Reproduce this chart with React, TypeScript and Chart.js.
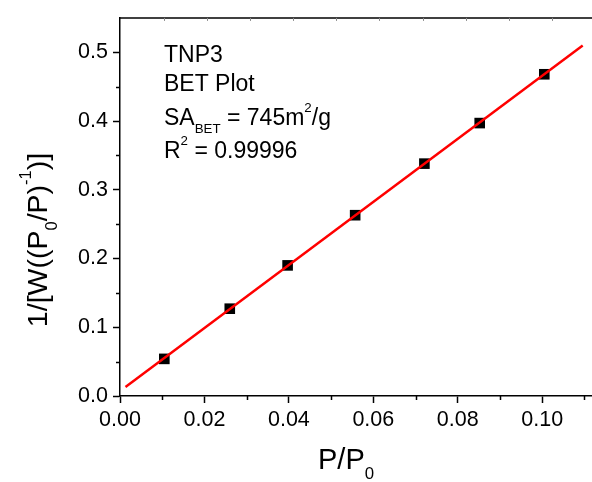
import React, { useEffect, useRef } from "react";
import { Chart, registerables } from "chart.js";

Chart.register(...registerables);

// Relative pressure and BET transform values for TNP3
const pressureRatio = [0.0105, 0.026, 0.0397, 0.0557, 0.0721, 0.0852, 0.1005];
const betValue = [0.054, 0.127, 0.19, 0.263, 0.338, 0.397, 0.468];

// Range over which the fitted line is drawn
const fitRange = [0.0013, 0.1096];

const xTickStep = 0.02;
const yTickStep = 0.1;
const xMinorValues = [0.01, 0.03, 0.05, 0.07, 0.09, 0.11];
const yMinorValues = [0.05, 0.15, 0.25, 0.35, 0.45];
const topTickValues = [0.01, 0.02, 0.03, 0.04, 0.05, 0.06, 0.07, 0.08, 0.09, 0.1];

type Seg = { t: string; k?: "sub" | "sup" };

const noteLines: Seg[][] = [
  [{ t: "TNP3" }],
  [{ t: "BET Plot" }],
  [{ t: "SA" }, { t: "BET", k: "sub" }, { t: " = 745m" }, { t: "2", k: "sup" }, { t: "/g" }],
  [{ t: "R" }, { t: "2", k: "sup" }, { t: " = 0.99996" }],
];

const xTitle: Seg[] = [{ t: "P/P" }, { t: "0", k: "sub" }];
const yTitle: Seg[] = [
  { t: "1/[W((P" },
  { t: "0", k: "sub" },
  { t: "/P)" },
  { t: "-1", k: "sup" },
  { t: ")]" },
];

const FONT = "'Liberation Sans', Arial, sans-serif";

function linearFit(xs: number[], ys: number[]) {
  const n = xs.length;
  const mx = xs.reduce((a, b) => a + b, 0) / n;
  const my = ys.reduce((a, b) => a + b, 0) / n;
  let sxy = 0;
  let sxx = 0;
  for (let i = 0; i < n; i++) {
    sxy += (xs[i] - mx) * (ys[i] - my);
    sxx += (xs[i] - mx) * (xs[i] - mx);
  }
  const slope = sxy / sxx;
  return { slope, intercept: my - slope * mx };
}

function segFont(size: number, k?: string) {
  const s = k ? size * 0.58 : size;
  return `${s}px ${FONT}`;
}

function richWidth(ctx: CanvasRenderingContext2D, segs: Seg[], size: number) {
  let w = 0;
  for (const s of segs) {
    ctx.font = segFont(size, s.k);
    w += ctx.measureText(s.t).width;
  }
  return w;
}

function drawRich(ctx: CanvasRenderingContext2D, x: number, y: number, segs: Seg[], size: number) {
  let cx = x;
  ctx.textBaseline = "alphabetic";
  ctx.textAlign = "left";
  for (const s of segs) {
    ctx.font = segFont(size, s.k);
    const dy = s.k === "sub" ? size * 0.35 : s.k === "sup" ? -size * 0.55 : 0;
    ctx.fillText(s.t, cx, y + dy);
    cx += ctx.measureText(s.t).width;
  }
}

const decorPlugin = {
  id: "decor",
  afterDraw(chart: any) {
    const { ctx, chartArea, scales } = chart;
    const x = scales.x;
    const y = scales.y;
    const x2 = scales.x2;
    ctx.save();
    ctx.strokeStyle = "#000";
    ctx.lineWidth = 1.5;

    // minor ticks, outward
    ctx.beginPath();
    for (const v of xMinorValues) {
      const px = Math.round(x.getPixelForValue(v)) + 0.5;
      if (px > chartArea.right) continue;
      ctx.moveTo(px, chartArea.bottom);
      ctx.lineTo(px, chartArea.bottom + 4);
    }
    for (const v of yMinorValues) {
      const py = Math.round(y.getPixelForValue(v)) + 0.5;
      ctx.moveTo(chartArea.left - 4, py);
      ctx.lineTo(chartArea.left, py);
    }
    ctx.stroke();

    // top frame line
    ctx.beginPath();
    ctx.moveTo(chartArea.left - 1, chartArea.top);
    ctx.lineTo(chartArea.right, chartArea.top);
    ctx.stroke();

    // faint inward ticks along the top frame
    ctx.strokeStyle = "#8a8a8a";
    ctx.lineWidth = 1;
    ctx.beginPath();
    for (const v of topTickValues) {
      const px = Math.round(x2.getPixelForValue(v)) + 0.5;
      ctx.moveTo(px, chartArea.top);
      ctx.lineTo(px, chartArea.top + 3);
    }
    ctx.stroke();

    ctx.fillStyle = "#000";
    // annotation block
    const baselines = [62, 91, 125, 158];
    noteLines.forEach((line, i) => drawRich(ctx, 164, baselines[i], line, 23));

    // x axis title
    drawRich(ctx, 318, 469, xTitle, 29);

    // y axis title, rotated
    const ys = 28.5;
    const yw = richWidth(ctx, yTitle, ys);
    ctx.translate(47, 240 + yw / 2);
    ctx.rotate(-Math.PI / 2);
    drawRich(ctx, 0, 0, yTitle, ys);
    ctx.restore();
  },
};

export default function App() {
  const ref = useRef<HTMLCanvasElement | null>(null);

  useEffect(() => {
    if (!ref.current) return;
    const fit = linearFit(pressureRatio, betValue);
    const fitPoints = fitRange.map((v) => ({ x: v, y: fit.intercept + fit.slope * v }));
    const points = pressureRatio.map((v, i) => ({ x: v, y: betValue[i] }));

    const tickFont = { family: FONT, size: 21.5 };

    const chart = new Chart(ref.current, {
      type: "scatter",
      data: {
        datasets: [
          {
            label: "Linear fit",
            data: fitPoints,
            showLine: true,
            borderColor: "#ff0000",
            borderWidth: 2.5,
            pointRadius: 0,
            order: 0,
          },
          {
            label: "TNP3",
            data: points,
            pointStyle: "rect",
            pointRadius: 7.5,
            backgroundColor: "#000",
            borderWidth: 0,
            order: 1,
          },
        ],
      },
      options: {
        animation: false,
        responsive: false,
        events: [],
        layout: { autoPadding: false, padding: { top: 13, right: 0, left: 0, bottom: 0 } },
        plugins: {
          legend: { display: false },
          tooltip: { enabled: false },
        },
        scales: {
          x: {
            type: "linear",
            position: "bottom",
            min: 0,
            max: 0.1118,
            afterFit: (s: any) => {
              s.height = 86;
            },
            ticks: {
              stepSize: xTickStep,
              includeBounds: false,
              autoSkip: false,
              maxRotation: 0,
              padding: 4,
              color: "#000",
              font: tickFont,
              callback: (v: any) => Number(v).toFixed(2),
            },
            grid: {
              drawOnChartArea: false,
              drawTicks: true,
              tickLength: 7,
              tickWidth: 1.5,
              tickColor: "#000",
            },
            border: { display: true, color: "#000", width: 1.5 },
          },
          x2: {
            type: "linear",
            display: false,
            position: "top",
            min: -0.0002,
            max: 0.1093,
          },
          y: {
            type: "linear",
            position: "left",
            min: 0,
            max: 0.55,
            afterFit: (s: any) => {
              s.width = 120;
            },
            ticks: {
              stepSize: yTickStep,
              includeBounds: false,
              padding: 5,
              color: "#000",
              font: tickFont,
              callback: (v: any) => Number(v).toFixed(1),
            },
            grid: {
              drawOnChartArea: false,
              drawTicks: true,
              tickLength: 7,
              tickWidth: 1.5,
              tickColor: "#000",
            },
            border: { display: true, color: "#000", width: 1.5 },
          },
        },
      },
      plugins: [decorPlugin],
    });
    return () => chart.destroy();
  }, []);

  return (
    <div style={{ position: "absolute", left: 0, top: 0, width: 592, height: 482, background: "#fff" }}>
      <canvas ref={ref} width={592} height={482} style={{ display: "block" }} />
    </div>
  );
}
